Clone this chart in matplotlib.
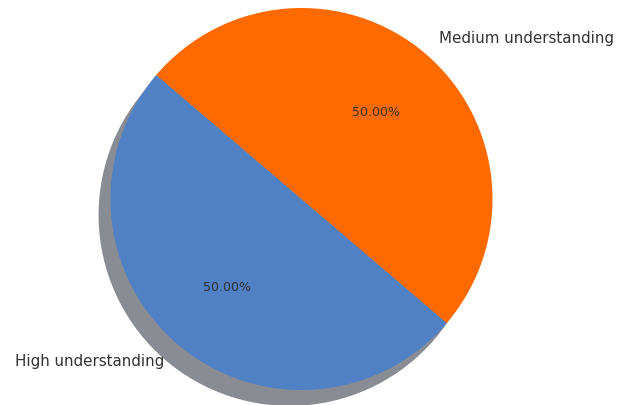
import matplotlib
matplotlib.use("Agg")
import matplotlib.pyplot as plt

# Understanding levels
labels = ["High understanding", "Medium understanding"]
shares = [50, 50]
colors = ["#4f81c4", "#ff6a00"]

fig = plt.figure(figsize=(6.18, 4.06), dpi=100)
ax = fig.add_axes([0, 0, 1, 1])

wedges, texts, autotexts = ax.pie(
    shares,
    labels=labels,
    colors=colors,
    autopct="%.2f%%",
    startangle=139.5,
    labeldistance=1.11,
    shadow={"ox": -0.045, "oy": -0.06, "facecolor": "#8a8c94",
            "edgecolor": "none", "alpha": 1},
    textprops={"fontsize": 9, "color": "#333333"},
)
for t in texts:
    t.set_fontsize(10.9)

# place the pie where the reference has it (radius ~191 px)
r = 191
ax.set_aspect("auto")
ax.set_xlim(-301.5 / r, 316.5 / r)
ax.set_ylim(-206 / r, 200 / r)
ax.axis("off")

fig.savefig("out.png", dpi=100)
